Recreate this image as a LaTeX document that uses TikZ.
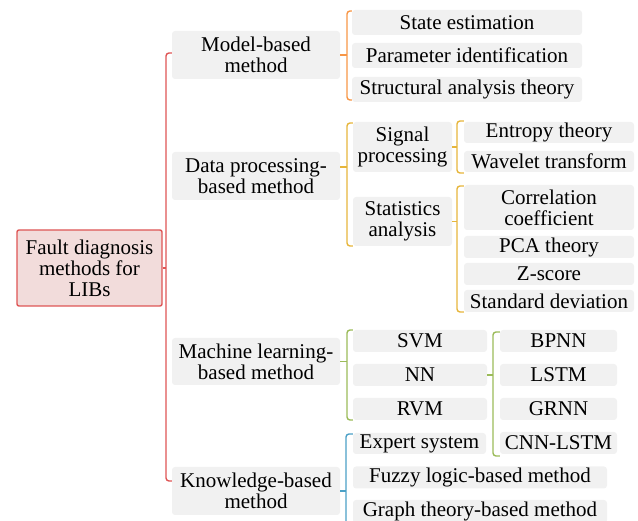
\documentclass[tikz,border=0pt]{standalone}
\usepackage{fontspec}
\setmainfont{Liberation Serif}
\definecolor{boxgray}{RGB}{241,241,241}
\definecolor{rootfill}{RGB}{242,220,219}
\definecolor{redc}{RGB}{222,85,85}
\definecolor{orangec}{RGB}{247,150,70}
\definecolor{goldc}{RGB}{230,182,60}
\definecolor{greenc}{RGB}{155,187,89}
\definecolor{bluec}{RGB}{75,160,198}
\tikzset{
  box/.style={fill=boxgray, rounded corners=3pt, inner sep=0pt, align=center},
  rootbox/.style={fill=rootfill, draw=redc, line width=1.4pt, rounded corners=2pt, inner sep=0pt, align=center},
  conn/.style={line width=1.4pt, rounded corners=3pt},
}
\begin{document}
\begin{tikzpicture}[x=1pt,y=-1pt,font=\fontsize{21}{21}\selectfont]
\useasboundingbox (0,0) rectangle (638,521);
\clip (0,0) rectangle (638,521);
% root
\node[rootbox, minimum width=145pt, minimum height=76pt] (root) at (89.5,268) {Fault diagnosis\\methods for\\LIBs};
% level 1
\node[box, minimum width=168pt, minimum height=48pt] (mb) at (256,55) {Model-based\\method};
\node[box, minimum width=168pt, minimum height=48pt] (dp) at (256,176) {Data processing-\\based method};
\node[box, minimum width=168pt, minimum height=47pt] (ml) at (256,361.5) {Machine learning-\\based method};
\node[box, minimum width=168pt, minimum height=48pt] (kb) at (256,491) {Knowledge-based\\method};
% model-based children
\node[box, minimum width=230pt, minimum height=25pt] (se) at (467,22.5) {State estimation};
\node[box, minimum width=230pt, minimum height=25pt] (pi) at (467,55.5) {Parameter identification};
\node[box, minimum width=230pt, minimum height=25pt] (sa) at (467,89.5) {Structural analysis theory};
% data processing children
\node[box, minimum width=99pt, minimum height=50pt] (sp) at (402.5,147) {Signal\\processing};
\node[box, minimum width=99pt, minimum height=49pt] (st) at (402.5,221.5) {Statistics\\analysis};
\node[box, minimum width=170pt, minimum height=21pt] (et) at (549,132.5) {Entropy theory};
\node[box, minimum width=170pt, minimum height=21pt] (wt) at (549,161.5) {Wavelet transform};
\node[box, minimum width=170pt, minimum height=45pt] (cc) at (549,207.5) {Correlation\\coefficient};
\node[box, minimum width=170pt, minimum height=22pt] (pca) at (549,247) {PCA theory};
\node[box, minimum width=170pt, minimum height=22pt] (zs) at (549,274) {Z-score};
\node[box, minimum width=170pt, minimum height=22pt] (sd) at (549,301) {Standard deviation};
% machine learning children
\node[box, minimum width=134pt, minimum height=22pt] (svm) at (420,341) {SVM};
\node[box, minimum width=134pt, minimum height=22pt] (nn) at (420,375) {NN};
\node[box, minimum width=134pt, minimum height=22pt] (rvm) at (420,409) {RVM};
\node[box, minimum width=117pt, minimum height=22pt] (bp) at (558.5,341) {BPNN};
\node[box, minimum width=117pt, minimum height=22pt] (ls) at (558.5,375) {LSTM};
\node[box, minimum width=117pt, minimum height=22pt] (gr) at (558.5,409) {GRNN};
\node[box, minimum width=117pt, minimum height=22pt] (cl) at (558.5,443) {CNN-LSTM};
% knowledge children
\node[box, minimum width=133pt, minimum height=21pt] (es) at (419.5,443.5) {Expert system};
\node[box, minimum width=254pt, minimum height=22pt] (fz) at (480,477.5) {Fuzzy logic-based method};
\node[box, minimum width=254pt, minimum height=23pt] (gt) at (480,511.5) {Graph theory-based method};
% red bracket
\coordinate (rX) at (166,0);
\draw[conn, redc] (mb.west |- 0,53) -- (166,53) -- (166,481) -- (kb.west |- 0,481);
\draw[line width=1.4pt, redc] (root.east) -- (root.east -| rX);
% orange bracket
\coordinate (oX) at (347,0);
\draw[conn, orangec] (se.west |- 0,11) -- (347,11) -- (347,100) -- (sa.west |- 0,100);
\draw[line width=1.4pt, orangec] (mb.east) -- (mb.east -| oX);
% gold brackets
\coordinate (gS) at (347,167);
\draw[conn, goldc] (sp.west |- 0,123) -- (347,123) -- (347,246) -- (st.west |- 0,246);
\draw[line width=1.4pt, goldc] (dp.east |- gS) -- (gS);
\coordinate (sX) at (457,0);
\draw[conn, goldc] (et.west |- 0,121) -- (457,121) -- (457,173) -- (wt.west |- 0,173);
\draw[line width=1.4pt, goldc] (sp.east) -- (sp.east -| sX);
\draw[conn, goldc] (cc.west |- 0,186) -- (457,186) -- (457,312) -- (sd.west |- 0,312);
\draw[line width=1.4pt, goldc] (st.east) -- (st.east -| sX);
% green brackets
\coordinate (mX) at (347,0);
\draw[conn, greenc] (svm.west |- 0,330) -- (347,330) -- (347,420) -- (rvm.west |- 0,420);
\draw[line width=1.4pt, greenc] (ml.east) -- (ml.east -| mX);
\coordinate (nX) at (493,0);
\draw[conn, greenc] (bp.west |- 0,332) -- (493,332) -- (493,456) -- (cl.west |- 0,456);
\draw[line width=1.4pt, greenc] (nn.east) -- (nn.east -| nX);
% blue bracket
\coordinate (kX) at (346,0);
\draw[conn, bluec] (es.west |- 0,434) -- (346,434) -- (346,530) -- (gt.west |- 0,530);
\draw[line width=1.4pt, bluec] (kb.east) -- (kb.east -| kX);
\end{tikzpicture}
\end{document}
